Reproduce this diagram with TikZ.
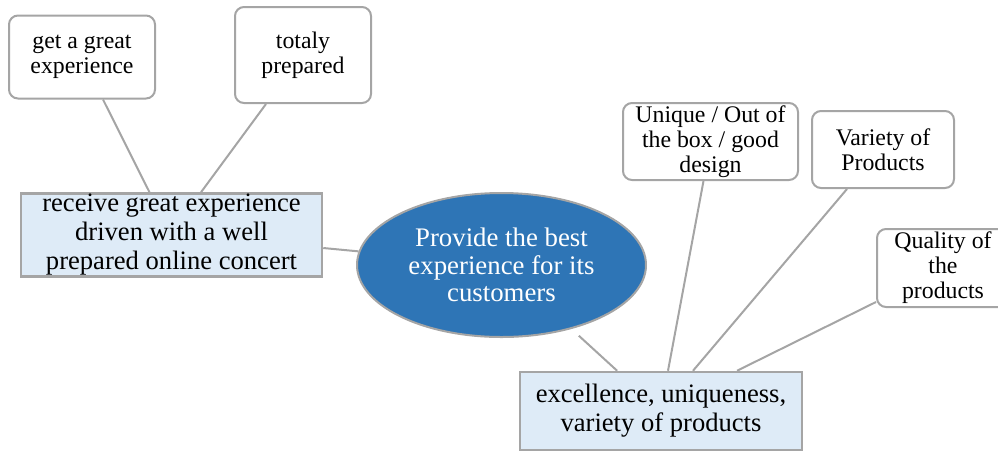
\documentclass[tikz,border=0pt]{standalone}
\usepackage{fontspec}
\setmainfont{Liberation Serif}
\usetikzlibrary{shapes.geometric}

\definecolor{lineGray}{HTML}{A5A5A5}
\definecolor{paleBlue}{HTML}{DEEBF7}
\definecolor{coreBlue}{HTML}{2E75B6}

\begin{document}
\begin{tikzpicture}[x=1pt, y=-1pt, line width=2pt]

		%画像の大きさ
		\useasboundingbox (0, 0) rectangle (998, 451);
		\tikzset{
			styleLeaf/.style={
				draw=lineGray, rounded corners=9pt, fill=white, align=center,
				inner sep=0pt, font=\fontsize{23.8}{25}\selectfont
			},		%小さい箱
			styleBranch/.style={
				draw=lineGray, line width=2.5pt, fill=paleBlue, align=center,
				inner sep=0pt, font=\fontsize{26.6}{29}\selectfont
			},		%水色の箱
			styleCore/.style={
				ellipse, draw=lineGray, fill=coreBlue, text=white, align=center,
				inner sep=0pt, font=\fontsize{26.8}{27.5}\selectfont
			}		%中央の楕円
		};

		%中央
		\node [styleCore, minimum width=289, minimum height=144]
			(core) at (501.5, 265) {Provide the best\\experience for its\\customers};

		%左側
		\node [styleBranch, minimum width=301, minimum height=83]
			(receive) at (171.5, 235) {receive great experience\\driven with a well\\prepared online concert};
		\node [styleLeaf, minimum width=146, minimum height=83]
			(great) at (82, 57) {get a great\\experience};
		\node [styleLeaf, minimum width=136, minimum height=96]
			(prepared) at (303, 55) {totaly\\prepared};

		%右側
		\node [styleBranch, minimum width=282, minimum height=78]
			(excellence) at (661, 411) {excellence, uniqueness,\\variety of products};
		\node [styleLeaf, minimum width=175, minimum height=77]
			(unique) at (710.5, 141.5) {Unique / Out of\\the box / good\\design};
		\node [styleLeaf, minimum width=142, minimum height=77]
			(variety) at (883, 149.5) {Variety of\\Products};
		\node [styleLeaf, minimum width=132, minimum height=78]
			(quality) at (943, 268) {Quality of\\the\\products};

		%ループで辺を書く
		\foreach \startName/\startShift/\endName/\endShift in {
				great/21/receive/-22, prepared/-37/receive/29.5,
				unique/-7/excellence/7, variety/-36/excellence/32 } {
			\draw [lineGray] ([xshift=\startShift pt]\startName.south)
				-- ([xshift=\endShift pt]\endName.north);
		}
		\draw [lineGray] ([yshift=6pt]quality.south west) -- ([xshift=76pt]excellence.north);

		%楕円とつなぐ
		\draw [lineGray] ([yshift=-13pt]receive.east) -- (core);
		\draw [lineGray, shorten <=10pt] (core) -- (excellence);

	\end{tikzpicture}
\end{document}
